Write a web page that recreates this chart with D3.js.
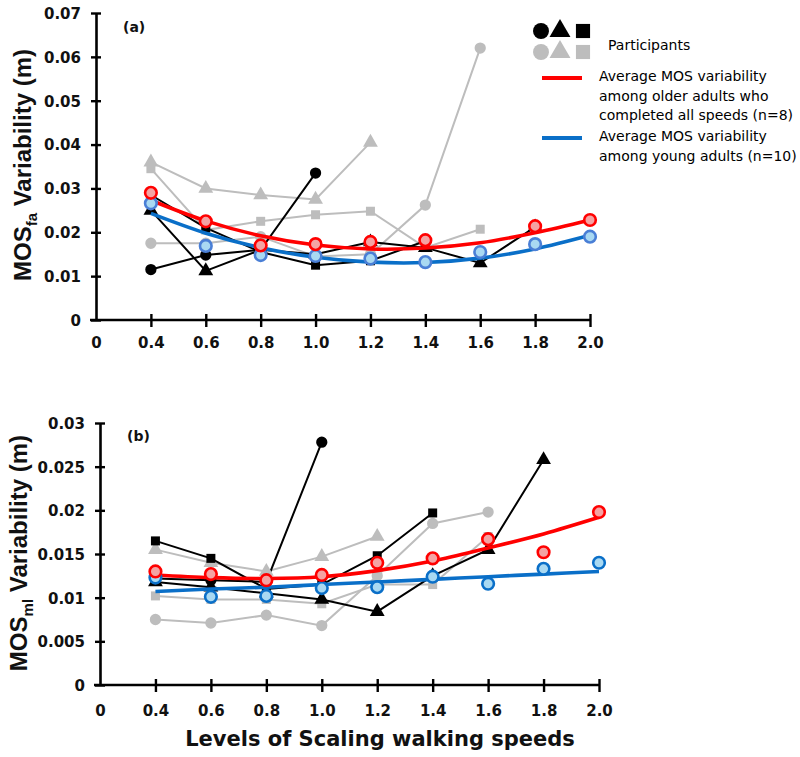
<!DOCTYPE html>
<html><head><meta charset="utf-8">
<script src="https://cdn.jsdelivr.net/npm/d3@7"></script>
<style>body{margin:0;background:#fff}svg{display:block}</style>
</head><body>
<svg id="chart" width="800" height="757"></svg>
<script>
// ---------- shared categories ----------
const speedLabels = ["0","0.4","0.6","0.8","1.0","1.2","1.4","1.6","1.8","2.0"];
const speeds = speedLabels.slice(1);

// ---------- panel (a) MOS fa ----------
const aYTicks = [0,0.01,0.02,0.03,0.04,0.05,0.06,0.07];
const aYTickLabels = ["0","0.01","0.02","0.03","0.04","0.05","0.06","0.07"];
const aGrayCircle   = [0.0175,0.0175,0.0190,0.0145,0.0150,0.0262,0.0620];
const aGrayTriangle = [0.0360,0.0300,0.0285,0.0275,0.0405];
const aGraySquare   = [0.0345,0.0205,0.0225,0.0240,0.0248,0.0165,0.0207];
const aBlackCircle  = [0.0115,0.0148,0.0160,0.0335];
const aBlackTriangle= [0.0250,0.0112,0.0160,0.0150,0.0178,0.0165,0.0130,0.0212];
const aBlackSquare  = [0.0285,0.0210,0.0155,0.0125,0.0135,0.0180];
const aOlderAvg     = [0.0290,0.0225,0.0170,0.0173,0.0178,0.0182,null,0.0214,0.0228];
const aOlderFit     = [0.0273,0.0226,0.0192,0.0171,0.0162,0.0164,0.0176,0.0199,0.0228];
const aYoungAvg     = [0.0266,0.0169,0.0148,0.0146,0.0140,0.0132,0.0155,0.0173,0.0190];
const aYoungFit     = [0.0243,0.0198,0.0165,0.0143,0.0132,0.0131,0.0141,0.0162,0.0193];

// ---------- panel (b) MOS ml ----------
const bYTicks = [0,0.005,0.01,0.015,0.02,0.025,0.03];
const bYTickLabels = ["0","0.005","0.01","0.015","0.02","0.025","0.03"];
const bGrayCircle   = [0.0075,0.0071,0.0080,0.0068,0.0125,0.0185,0.0198];
const bGrayTriangle = [0.0155,0.0140,0.0130,0.0147,0.0170];
const bGraySquare   = [0.0102,0.0098,0.0098,0.0093,0.0115,0.0115,0.0170];
const bBlackCircle  = [0.0122,0.0120,0.0118,0.0278];
const bBlackTriangle= [0.0118,0.0112,0.0105,0.0098,0.0084,0.0125,0.0155,0.0258];
const bBlackSquare  = [0.0165,0.0145,0.0110,0.0115,0.0148,0.0197];
const bOlderAvg     = [0.0130,0.0127,0.0120,0.0126,0.0140,0.0145,0.0167,0.0152,0.0198];
const bOlderFit     = [0.0126,0.0123,0.0122,0.0124,0.0131,0.0142,0.0157,0.0173,0.0192];
const bYoungAvg     = [0.0123,0.0101,0.0102,0.0111,0.0112,0.0124,0.0116,0.0133,0.0140];
const bYoungFit     = [0.0107,0.0110,0.0112,0.0115,0.0118,0.0121,0.0124,0.0127,0.0130];

const legendLabels = {
  participants: "Participants",
  older: ["Average MOS variability","among older adults who","completed all speeds (n=8)"],
  young: ["Average MOS variability","among young adults (n=10)"]
};

const svg = d3.select("#chart");
const GRAY = "#bdbdbd", RED = "#ff0000", BLUE = "#0a6fc8";
const tickFont = "'DejaVu Sans', Verdana, sans-serif";

function toPts(arr){ return arr.map((v,i)=>({s:speeds[i], v})).filter(d=>d.v!=null); }

function shapePath(shape, size){
  const t = shape==="circle"?d3.symbolCircle:shape==="triangle"?d3.symbolTriangle:d3.symbolSquare;
  return d3.symbol().type(t).size(size)();
}

function drawPanel(cfg){
  const g = svg.append("g");
  const x = d3.scalePoint().domain(speedLabels).range([cfg.x0, cfg.x1]);
  const y = d3.scaleLinear().domain([0, cfg.yMax]).range([cfg.yBottom, cfg.yTop]);

  // axes
  const ya = g.append("g").attr("transform",`translate(${cfg.x0},0)`)
    .call(d3.axisLeft(y).tickValues(cfg.yTicks).tickFormat((d,i)=>cfg.yTickLabels[i]).tickSizeOuter(0));
  const xa = g.append("g").attr("transform",`translate(0,${cfg.yBottom})`)
    .call(d3.axisBottom(x).tickSizeOuter(0));
  [ya,xa].forEach(a=>{
    a.select(".domain").attr("stroke","#000").attr("stroke-width",2.6);
    a.selectAll(".tick line").attr("stroke","#000").attr("stroke-width",2.4);
    a.selectAll(".tick text").attr("fill","#111").attr("font-family",tickFont)
      .attr("font-weight","bold").attr("font-size",15);
  });
  ya.selectAll(".tick line").attr("x1",-5).attr("x2",5);
  ya.selectAll(".tick text").attr("x",-15).attr("dy","0.36em");
  xa.select(".domain").attr("d",`M${cfg.x0-6},0H${cfg.x1}`);
  xa.selectAll(".tick line").attr("y1",-6).attr("y2",7);
  xa.selectAll(".tick text").attr("y",cfg.xLabelDy).attr("dy",0);
  xa.selectAll(".tick").filter(d=>d==="0").select("line").remove();

  // panel label
  g.append("text").attr("x",cfg.x0+27).attr("y",cfg.labelY).text(cfg.label)
    .attr("font-family",tickFont).attr("font-weight","bold").attr("font-size",14).attr("fill","#111");

  // y title
  const yt = g.append("text").attr("transform",`translate(${cfg.titleX},${cfg.titleY}) rotate(-90)`)
    .attr("text-anchor","middle").attr("font-family","'Liberation Sans', Arial, sans-serif")
    .attr("font-weight","bold").attr("font-size",24).attr("fill","#111");
  yt.append("tspan").text("MOS");
  yt.append("tspan").text(cfg.sub).attr("font-size",15).attr("dy",6);
  yt.append("tspan").text(" Variability (m)").attr("dy",-6);

  const line = d3.line().x(d=>x(d.s)).y(d=>y(d.v));

  // participants
  cfg.participants.forEach(p=>{
    const pts = toPts(p.data);
    g.append("path").attr("d",line(pts)).attr("fill","none").attr("stroke",p.color).attr("stroke-width",2);
  });
  cfg.participants.forEach(p=>{
    const pts = toPts(p.data);
    g.selectAll(null).data(pts).join("path")
      .attr("transform",d=>`translate(${x(d.s)},${y(d.v)})`)
      .attr("d",shapePath(p.shape, p.shape==="triangle"?95:p.shape==="square"?81:100))
      .attr("fill",p.color);
  });

  // fitted averages
  const fit = d3.line().curve(d3.curveCatmullRom).x(d=>x(d.s)).y(d=>y(d.v));
  [[cfg.youngFit,BLUE],[cfg.olderFit,RED]].forEach(([arr,c])=>{
    g.append("path").attr("d",fit(toPts(arr))).attr("fill","none").attr("stroke",c).attr("stroke-width",3.6);
  });
  [[cfg.youngAvg,cfg.blueStroke,"#a9d9f2"],[cfg.olderAvg,RED,"#f4a3a3"]].forEach(([arr,c,f])=>{
    g.selectAll(null).data(toPts(arr)).join("circle")
      .attr("cx",d=>x(d.s)).attr("cy",d=>y(d.v)).attr("r",5.8)
      .attr("fill",f).attr("stroke",c).attr("stroke-width",2.6);
  });
}

drawPanel({
  x0:96, x1:590, yBottom:320, yTop:13, yMax:0.07, yTicks:aYTicks, yTickLabels:aYTickLabels,
  xLabelDy:28, label:"(a)", labelY:32, titleX:31, titleY:165, sub:"fa",
  participants:[
    {data:aGrayCircle,shape:"circle",color:GRAY},
    {data:aGrayTriangle,shape:"triangle",color:GRAY},
    {data:aGraySquare,shape:"square",color:GRAY},
    {data:aBlackCircle,shape:"circle",color:"#000"},
    {data:aBlackTriangle,shape:"triangle",color:"#000"},
    {data:aBlackSquare,shape:"square",color:"#000"}
  ],
  olderAvg:aOlderAvg, olderFit:aOlderFit, youngAvg:aYoungAvg, youngFit:aYoungFit, blueStroke:"#4a7fd6"
});

drawPanel({
  x0:100, x1:599, yBottom:685, yTop:423, yMax:0.03, yTicks:bYTicks, yTickLabels:bYTickLabels,
  xLabelDy:31, label:"(b)", labelY:441, titleX:27, titleY:553, sub:"ml",
  participants:[
    {data:bGrayCircle,shape:"circle",color:GRAY},
    {data:bGrayTriangle,shape:"triangle",color:GRAY},
    {data:bGraySquare,shape:"square",color:GRAY},
    {data:bBlackCircle,shape:"circle",color:"#000"},
    {data:bBlackTriangle,shape:"triangle",color:"#000"},
    {data:bBlackSquare,shape:"square",color:"#000"}
  ],
  olderAvg:bOlderAvg, olderFit:bOlderFit, youngAvg:bYoungAvg, youngFit:bYoungFit, blueStroke:"#0a6fc8"
});

// x title
svg.append("text").attr("x",380).attr("y",746).attr("text-anchor","middle")
  .attr("font-family",tickFont).attr("font-weight","bold").attr("font-size",21).attr("fill","#111")
  .text("Levels of Scaling walking speeds");

// legend
const lg = svg.append("g");
const legShapes = ["circle","triangle","square"];
const legX = [541,560,583];
[["#000",31],[GRAY,52]].forEach(([c,yy])=>{
  legShapes.forEach((s,i)=>{
    lg.append("path").attr("transform",`translate(${legX[i]},${yy})`)
      .attr("d",shapePath(s, s==="triangle"?190:s==="square"?200:200)).attr("fill",c);
  });
});
const legFont = "'DejaVu Sans', Verdana, sans-serif";
lg.append("text").attr("x",608).attr("y",50).text(legendLabels.participants)
  .attr("font-family",legFont).attr("font-size",14).attr("fill","#000");
lg.append("line").attr("x1",542).attr("x2",582).attr("y1",78).attr("y2",78).attr("stroke",RED).attr("stroke-width",4);
legendLabels.older.forEach((t,i)=>lg.append("text").attr("x",599).attr("y",81+i*19.5).text(t)
  .attr("font-family",legFont).attr("font-size",14).attr("fill","#000"));
lg.append("line").attr("x1",542).attr("x2",582).attr("y1",138).attr("y2",138).attr("stroke",BLUE).attr("stroke-width",4);
legendLabels.young.forEach((t,i)=>lg.append("text").attr("x",599).attr("y",141+i*19.5).text(t)
  .attr("font-family",legFont).attr("font-size",14).attr("fill","#000"));
</script>
</body></html>
